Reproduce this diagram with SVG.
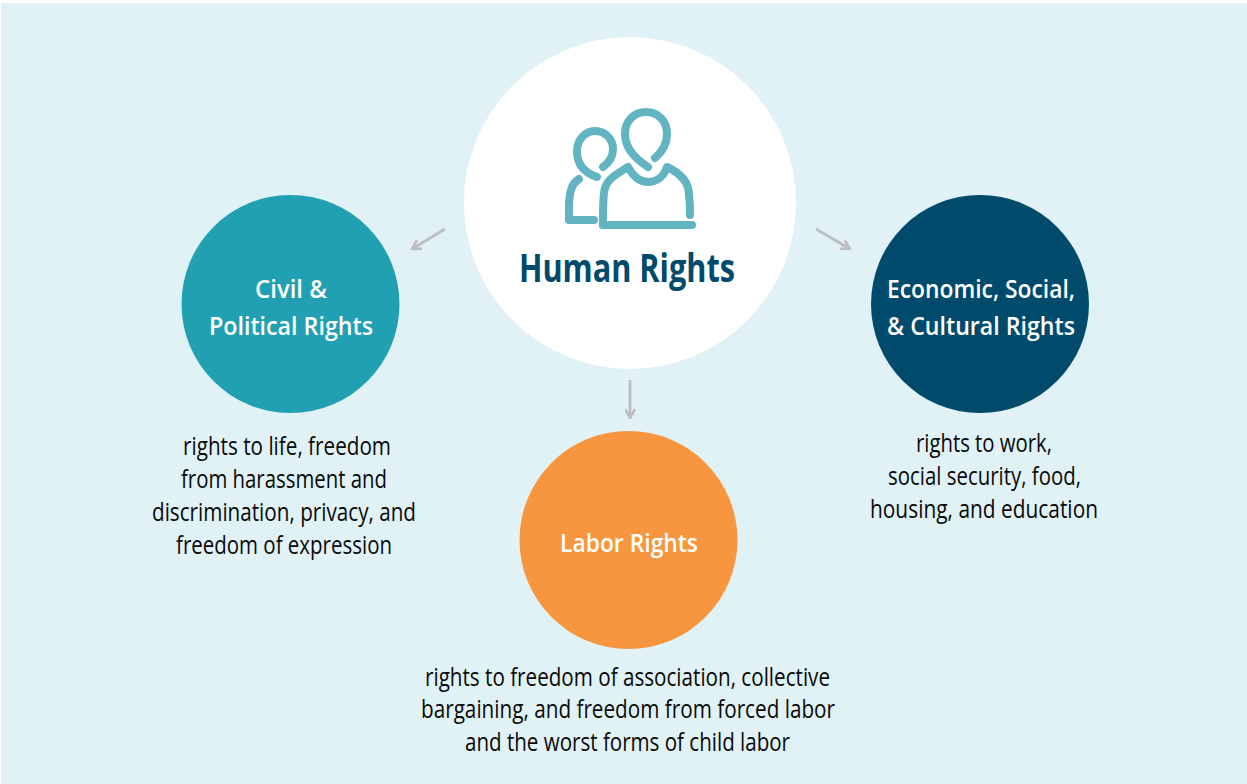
<svg xmlns="http://www.w3.org/2000/svg" width="1247" height="784" viewBox="0 0 1247 784">
<style>
text{font-family:"Open Sans","Liberation Sans",sans-serif;text-anchor:middle}
.t{font-size:26px;font-weight:600;fill:#fff}
.b{font-size:25px;fill:#0a0a0a}
.h{font-size:40px;font-weight:700;fill:#004a6b}
.ic{fill:none;stroke:#63b4c2;stroke-width:8;stroke-linecap:round;stroke-linejoin:round}
.a{fill:none;stroke:#bcbec0;stroke-width:2.8}
</style>
<defs><marker id="ah" viewBox="0 0 10 10" refX="9" refY="5" markerWidth="11" markerHeight="11" markerUnits="userSpaceOnUse" orient="auto"><path d="M1 0.5L9 5L1 9.500" fill="none" stroke="#bcbec0" stroke-width="2.4"/></marker></defs>
<rect x="1" y="3" width="1246" height="781" fill="#e0f2f5"/>
<g id="connectors">
<path class="a" d="M445 229L412 249" marker-end="url(#ah)"/>
<path class="a" d="M816 229L850 249" marker-end="url(#ah)"/>
<path class="a" d="M630 380V418" marker-end="url(#ah)"/>
</g>
<g id="human-rights">
<circle cx="630" cy="203" r="166" fill="#fff"/>
<g class="ic">
<path d="M648 167C634 158 625 147 625 134C625 121 634 112 646 112C658 112 667 121 667 134C667 144 662 152 655 158"/>
<path d="M597 177C585 173 577 165 577 151C577 140 585 131 595 131C606 131 613 140 613 149C613 156 610 162 603 167"/>
<path d="M579 179C571 184 570 192 569 203C569 208 569 213 569 220H594"/>
<path d="M603 225C603 212 603 201 604 193C605 180 615 175 628 167C633 176 640 182 648 182C657 182 664 176 667 167C680 173 689 181 689 195C690 203 690 209 690 215"/>
<path d="M603 225H692"/>
</g>
<text class="h" x="627" y="282" textLength="216" lengthAdjust="spacingAndGlyphs">Human Rights</text>
</g>
<g id="civil-political">
<circle cx="290.500" cy="304" r="109" fill="#20a0b2"/>
<text class="t" x="291" y="298" textLength="72" lengthAdjust="spacingAndGlyphs">Civil &amp;</text>
<text class="t" x="291" y="335" textLength="164" lengthAdjust="spacingAndGlyphs">Political Rights</text>
<text class="b" x="287" y="455" textLength="208" lengthAdjust="spacingAndGlyphs">rights to life, freedom</text>
<text class="b" x="284" y="488" textLength="206" lengthAdjust="spacingAndGlyphs">from harassment and</text>
<text class="b" x="284" y="521" textLength="264" lengthAdjust="spacingAndGlyphs">discrimination, privacy, and</text>
<text class="b" x="284" y="554" textLength="216" lengthAdjust="spacingAndGlyphs">freedom of expression</text>
</g>
<g id="economic-social-cultural">
<circle cx="980" cy="304" r="109" fill="#004a6b"/>
<text class="t" x="981" y="298" textLength="188" lengthAdjust="spacingAndGlyphs">Economic, Social,</text>
<text class="t" x="981" y="335" textLength="188" lengthAdjust="spacingAndGlyphs">&amp; Cultural Rights</text>
<text class="b" x="984" y="452" textLength="136" lengthAdjust="spacingAndGlyphs">rights to work,</text>
<text class="b" x="984.500" y="485" textLength="193" lengthAdjust="spacingAndGlyphs">social security, food,</text>
<text class="b" x="984" y="518" textLength="228" lengthAdjust="spacingAndGlyphs">housing, and education</text>
</g>
<g id="labor-rights">
<circle cx="628.500" cy="540" r="109" fill="#f89640"/>
<text class="t" x="629" y="552" textLength="138" lengthAdjust="spacingAndGlyphs">Labor Rights</text>
<text class="b" x="627.500" y="686" textLength="405" lengthAdjust="spacingAndGlyphs">rights to freedom of association, collective</text>
<text class="b" x="628" y="718" textLength="414" lengthAdjust="spacingAndGlyphs">bargaining, and freedom from forced labor</text>
<text class="b" x="627.500" y="751" textLength="325" lengthAdjust="spacingAndGlyphs">and the worst forms of child labor</text>
</g>
</svg>
